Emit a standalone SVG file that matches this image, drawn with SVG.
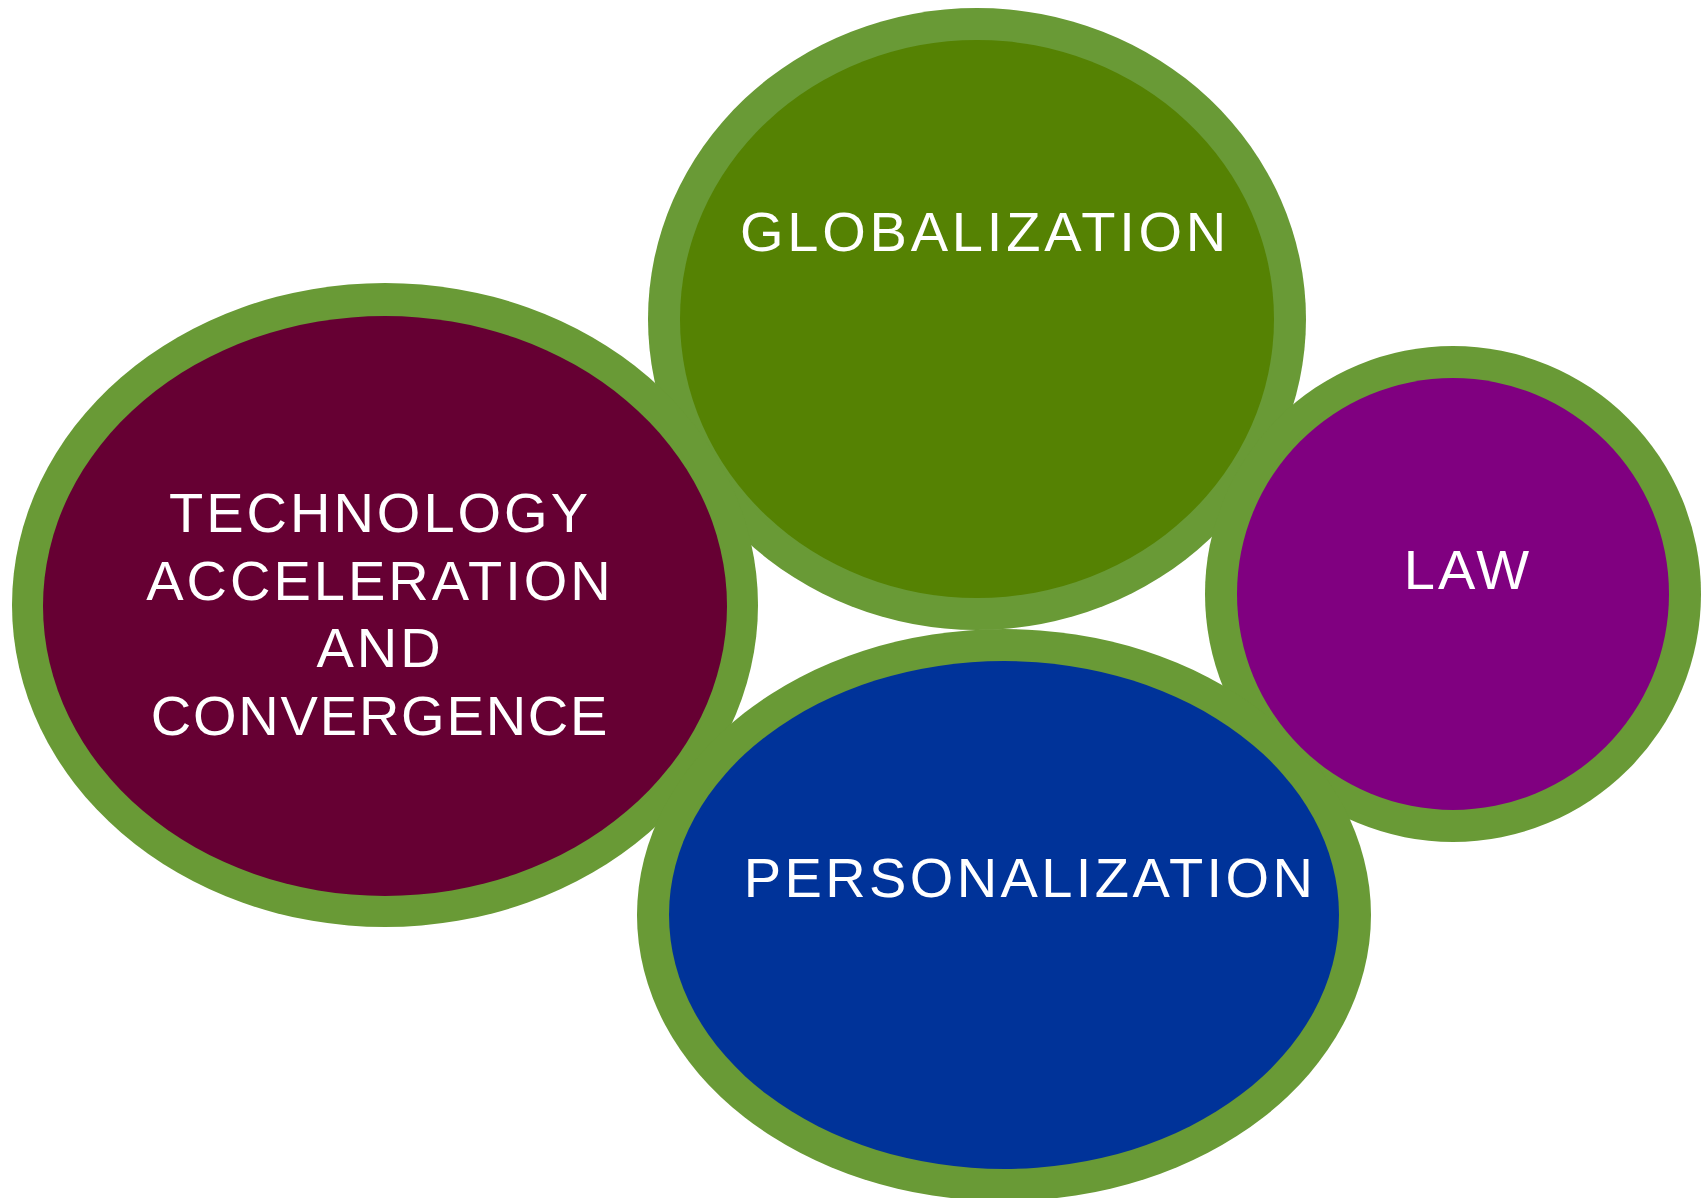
<svg xmlns="http://www.w3.org/2000/svg" width="1704" height="1198" viewBox="0 0 1704 1198">
<style>
.ring{fill:#699A36}
.lbl{fill:#FFFFFF;font-family:"Liberation Sans",Arial,sans-serif;font-size:56px;letter-spacing:3px;text-anchor:middle}
</style>
<rect width="1704" height="1198" fill="#FFFFFF"/>
<g id="rings">
<ellipse class="ring" cx="977" cy="319" rx="329" ry="311"/>
<ellipse class="ring" cx="385" cy="605" rx="373" ry="322"/>
<circle class="ring" cx="1453" cy="594" r="248"/>
<ellipse class="ring" cx="1004" cy="915" rx="367" ry="286"/>
</g>
<g id="globalization">
<ellipse cx="977" cy="319" rx="297" ry="279" fill="#558203"/>
<text class="lbl" x="985" y="251" style="letter-spacing:3.8px">GLOBALIZATION</text>
</g>
<g id="technology">
<ellipse cx="385" cy="606" rx="342" ry="290" fill="#660033"/>
<text class="lbl" x="380" y="532">TECHNOLOGY</text>
<text class="lbl" x="380" y="600">ACCELERATION</text>
<text class="lbl" x="380" y="667">AND</text>
<text class="lbl" x="380" y="735" style="letter-spacing:1.8px">CONVERGENCE</text>
</g>
<g id="law">
<circle cx="1453" cy="594" r="216" fill="#800080"/>
<text class="lbl" x="1468" y="589">LAW</text>
</g>
<g id="personalization">
<ellipse cx="1004" cy="915" rx="335" ry="254" fill="#003399"/>
<text class="lbl" x="1030" y="897" style="letter-spacing:3.4px">PERSONALIZATION</text>
</g>
<g id="connectors"></g>
</svg>
